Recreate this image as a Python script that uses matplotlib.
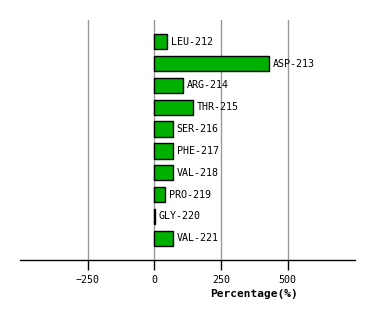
import matplotlib
matplotlib.use("Agg")
import matplotlib.pyplot as plt

residues = ["LEU-212", "ASP-213", "ARG-214", "THR-215", "SER-216",
            "PHE-217", "VAL-218", "PRO-219", "GLY-220", "VAL-221"]
percent = [46, 429, 106, 144, 69, 69, 69, 39, 2, 69]
ticks = [-250, 0, 250, 500]

plt.rcParams['font.family'] = ['DejaVu Sans Mono']

fig = plt.figure(figsize=(3.74, 3.2), dpi=100)
ax = fig.add_axes([20 / 374, 60 / 320, 335 / 374, 240 / 320])

ypos = list(range(len(residues)))
ax.barh(ypos, percent, height=0.7, color='#00b000', edgecolor='black', linewidth=1, zorder=3)

for y, v, name in zip(ypos, percent, residues):
    ax.annotate(name, (v, y), xytext=(3, 0), textcoords='offset points',
                va='center', ha='left', fontsize=7.2, zorder=4)

ax.set_xlim(-503, 752)
ax.set_ylim(len(residues), -1)
ax.set_xticks(ticks)
ax.set_xticklabels([str(t).replace('-', '\u2212') for t in ticks], fontsize=7.2)
ax.set_yticks([])
ax.grid(axis='x', color='#999999', linewidth=1, zorder=0)
for s in ['top', 'left', 'right']:
    ax.spines[s].set_visible(False)
ax.spines['bottom'].set_linewidth(1)
ax.tick_params(axis='x', length=7, width=1, pad=3.5)

ax.text(0.70, -0.122, 'Percentage(%)', transform=ax.transAxes, ha='center', va='top',
        fontsize=8, fontweight='bold')

fig.savefig('out.png', dpi=100)
